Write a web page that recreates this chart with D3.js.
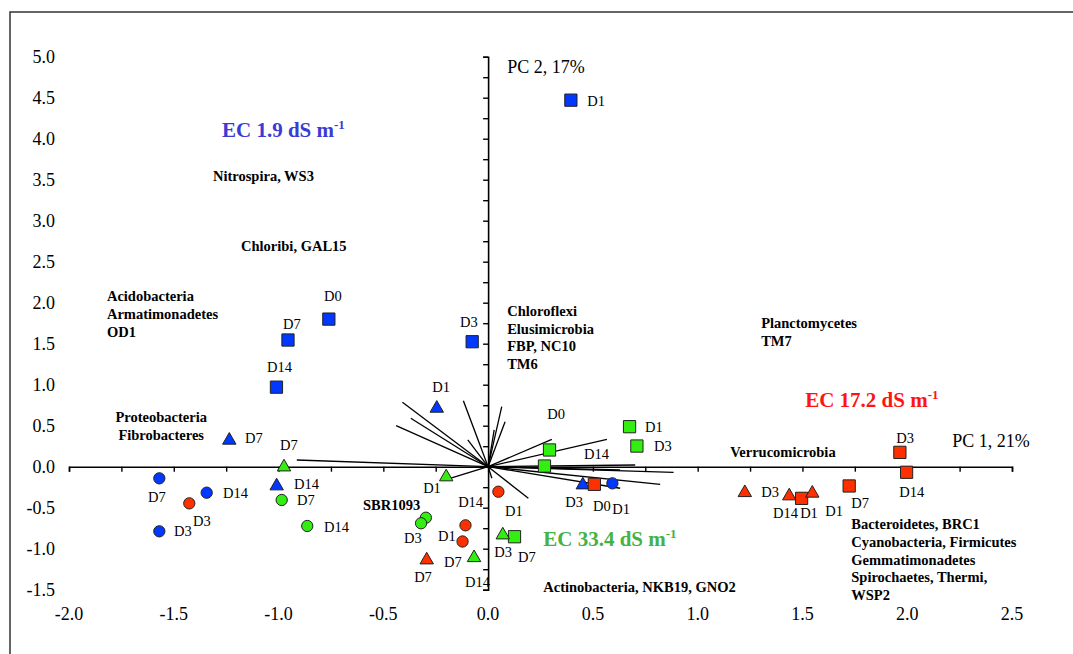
<!DOCTYPE html>
<html>
<head>
<meta charset="utf-8">
<script src="https://cdn.jsdelivr.net/npm/d3@7"></script>
<style>
  body { margin: 0; background: #fff; }
  svg { display: block; }
  text { font-family: "Liberation Serif", "Times New Roman", serif; }
</style>
</head>
<body>
<svg id="chart" width="1073" height="654"></svg>
<script>
// axis ticks
var xTickLabels = [-2.0, -1.5, -1.0, -0.5, 0.0, 0.5, 1.0, 1.5, 2.0, 2.5];
var yTickLabels = [-1.5, -1.0, -0.5, 0.0, 0.5, 1.0, 1.5, 2.0, 2.5, 3.0, 3.5, 4.0, 4.5, 5.0];

// sample scores, one array per EC level and marker
var ec19Square   = [[0.395, 4.47], [-0.76, 1.80], [-0.955, 1.545], [-1.01, 0.97], [-0.076, 1.524]];
var ec19Triangle = [[-0.245, 0.724], [-1.235, 0.334], [-1.009, -0.223], [0.452, -0.211]];
var ec19Circle   = [[-1.569, -0.142], [-1.343, -0.317], [-1.569, -0.788], [0.593, -0.203]];

var ec172Square   = [[0.507, -0.215], [1.496, -0.386], [1.723, -0.235], [1.965, 0.175], [1.997, -0.068]];
var ec172Triangle = [[-0.293, -1.126], [1.225, -0.305], [1.437, -0.345], [1.547, -0.312]];
var ec172Circle   = [[-1.426, -0.447], [0.049, -0.305], [-0.108, -0.715], [-0.122, -0.912]];

var ec334Square   = [[0.675, 0.488], [0.710, 0.252], [0.293, 0.204], [0.269, 0.008], [0.126, -0.854]];
var ec334Triangle = [[-0.974, 0.008], [-0.200, -0.113], [0.070, -0.821], [-0.067, -1.098]];
var ec334Circle   = [[-0.985, -0.406], [-0.863, -0.723], [-0.297, -0.622], [-0.320, -0.690]];

// day labels next to the samples
var dayLabels = [
  ["D0", -0.783, 2.02], ["D7", -0.979, 1.68], ["D14", -1.055, 1.15], ["D1", 0.473, 4.40],
  ["D3", -0.134, 1.70], ["D1", -0.267, 0.91], ["D7", -1.160, 0.29], ["D7", -0.993, 0.20],
  ["D14", -0.926, -0.27], ["D7", -0.912, -0.47], ["D14", -0.783, -0.80], ["D7", -1.623, -0.43],
  ["D14", -1.265, -0.38], ["D3", -1.408, -0.72], ["D3", -1.499, -0.85], ["D1", -0.310, -0.32],
  ["D14", -0.143, -0.49], ["D1", 0.081, -0.60], ["D3", -0.401, -0.93], ["D1", -0.239, -0.91],
  ["D3", 0.029, -1.10], ["D7", 0.143, -1.16], ["D7", -0.210, -1.22], ["D7", -0.353, -1.41],
  ["D14", -0.110, -1.47], ["D0", 0.282, 0.58], ["D14", 0.458, 0.09], ["D1", 0.749, 0.42],
  ["D3", 0.792, 0.19], ["D3", 0.368, -0.49], ["D0", 0.501, -0.54], ["D1", 0.592, -0.58],
  ["D3", 1.303, -0.37], ["D14", 1.360, -0.62], ["D1", 1.489, -0.62], ["D1", 1.609, -0.60],
  ["D7", 1.733, -0.50], ["D3", 1.948, 0.29], ["D14", 1.962, -0.37]
];

// phylum loading vectors (end points)
var loadings = [
  [-0.409, 0.785], [-0.369, 0.590], [-0.439, 0.500], [-0.118, 0.805], [-0.097, 0.326],
  [0.065, 0.732], [0.081, 0.549], [0.029, 0.448], [-0.205, -0.162], [-0.913, 0.082],
  [0.304, 0.334], [0.567, 0.334], [0.702, 0.021], [0.885, -0.068], [0.821, -0.215],
  [0.630, -0.263], [0.192, -0.385], [0.018, -0.141], [0.630, -0.040]
];

// taxa names
var taxaLabels = [
  [["Nitrospira, WS3"], -1.313, 3.48],
  [["Chloribi, GAL15"], -1.179, 2.63],
  [["Acidobacteria", "Armatimonadetes", "OD1"], -1.819, 2.02],
  [["Chloroflexi", "Elusimicrobia", "FBP, NC10", "TM6"], 0.091, 1.84],
  [["Planctomycetes", "TM7"], 1.303, 1.69],
  [["Verrucomicrobia"], 1.155, 0.12],
  [["Bacteroidetes, BRC1", "Cyanobacteria, Firmicutes", "Gemmatimonadetes", "Spirochaetes, Thermi,", "WSP2"], 1.733, -0.76],
  [["Actinobacteria, NKB19, GNO2"], 0.263, -1.53],
  [["SBR1093"], -0.597, -0.53]
];
var taxaCentred = [["Proteobacteria", "Fibrobacteres"], -1.56, 0.545];

var ecLabels = [["EC 1.9 dS m", -1.270, 4.02], ["EC 17.2 dS m", 1.513, 0.73], ["EC 33.4 dS m", 0.263, -0.97]];
var axisTitles = [["PC 2, 17%", 0.091, 4.80], ["PC 1, 21%", 2.215, 0.24]];

var svg = d3.select("#chart");

var x = d3.scaleLinear().domain([-2, 2.5]).range([69, 1012]);
var y = d3.scaleLinear().domain([-1.5, 5]).range([589.7, 56.7]);

var ecColor = d3.scaleOrdinal()
  .domain(["1.9", "17.2", "33.4"])
  .range(["#0038ff", "#ff3000", "#33ee11"]);
var ecTextColor = d3.scaleOrdinal()
  .domain(["1.9", "17.2", "33.4"])
  .range(["#3b3bd4", "#ff1414", "#44b244"]);

// outer frame, cut off at right and bottom like the source
svg.append("rect")
  .attr("x", 10).attr("y", 12)
  .attr("width", 1100).attr("height", 700)
  .style("fill", "none").style("stroke", "#333").style("stroke-width", 1.5);

// axes through the origin, labels kept at the outside
var xAxis = d3.axisBottom(x)
  .tickValues(d3.range(-2, 2.5001, 0.25))
  .tickSize(5).tickFormat("");
svg.append("g")
  .attr("transform", "translate(0," + y(0) + ")")
  .call(xAxis)
  .call(function(g) {
    g.select(".domain").attr("stroke", "#000").attr("stroke-width", 1.6);
    g.selectAll(".tick line").attr("stroke", "#000").attr("stroke-width", 1.4);
  });

var yAxis = d3.axisLeft(y)
  .tickValues(d3.range(-1.5, 5.0001, 0.25))
  .tickSize(5).tickFormat("");
svg.append("g")
  .attr("transform", "translate(" + x(0) + ",0)")
  .call(yAxis)
  .call(function(g) {
    g.select(".domain").attr("stroke", "#000").attr("stroke-width", 1.6);
    g.selectAll(".tick line").attr("stroke", "#000").attr("stroke-width", 1.4);
  });

svg.selectAll(".xlab")
  .data(xTickLabels)
  .enter().append("text")
  .attr("class", "xlab")
  .attr("x", function(d) { return x(d); })
  .attr("y", 620)
  .attr("text-anchor", "middle")
  .style("font-size", "18px")
  .text(function(d) { return d3.format(".1f")(d).replace("−", "-"); });

svg.selectAll(".ylab")
  .data(yTickLabels)
  .enter().append("text")
  .attr("class", "ylab")
  .attr("x", 55)
  .attr("y", function(d) { return y(d) + 6; })
  .attr("text-anchor", "end")
  .style("font-size", "18px")
  .text(function(d) { return d3.format(".1f")(d).replace("−", "-"); });

// loading vectors
svg.selectAll(".vec")
  .data(loadings)
  .enter().append("line")
  .attr("class", "vec")
  .attr("x1", x(0)).attr("y1", y(0))
  .attr("x2", function(d) { return x(d[0]); })
  .attr("y2", function(d) { return y(d[1]); })
  .style("stroke", "#000").style("stroke-width", 1.3);

// samples
var series = [
  {ec: "1.9", shape: "square", pts: ec19Square},
  {ec: "1.9", shape: "triangle", pts: ec19Triangle},
  {ec: "1.9", shape: "circle", pts: ec19Circle},
  {ec: "17.2", shape: "square", pts: ec172Square},
  {ec: "17.2", shape: "triangle", pts: ec172Triangle},
  {ec: "17.2", shape: "circle", pts: ec172Circle},
  {ec: "33.4", shape: "square", pts: ec334Square},
  {ec: "33.4", shape: "triangle", pts: ec334Triangle},
  {ec: "33.4", shape: "circle", pts: ec334Circle}
];
var symbolType = {square: d3.symbolSquare, triangle: d3.symbolTriangle, circle: d3.symbolCircle};
var symbolSize = {square: 150, triangle: 78, circle: 100};

series.forEach(function(s) {
  var sym = d3.symbol().type(symbolType[s.shape]).size(symbolSize[s.shape]);
  svg.append("g").selectAll("path")
    .data(s.pts)
    .enter().append("path")
    .attr("d", sym)
    .attr("transform", function(d) {
      var dy = s.shape == "triangle" ? 1 : 0;
      return "translate(" + x(d[0]) + "," + (y(d[1]) + dy) + ")";
    })
    .style("fill", ecColor(s.ec))
    .style("stroke", "#222")
    .style("stroke-width", 1);
});

// day labels
svg.selectAll(".day")
  .data(dayLabels)
  .enter().append("text")
  .attr("class", "day")
  .attr("x", function(d) { return x(d[1]); })
  .attr("y", function(d) { return y(d[2]); })
  .style("font-size", "14.5px")
  .text(function(d) { return d[0]; });

// taxa groups
taxaLabels.forEach(function(t) {
  var txt = svg.append("text")
    .attr("x", x(t[1])).attr("y", y(t[2]))
    .style("font-size", "14.5px").style("font-weight", "bold");
  t[0].forEach(function(line, i) {
    txt.append("tspan").attr("x", x(t[1])).attr("dy", i == 0 ? 0 : 17.8).text(line);
  });
});
var pt = svg.append("text")
  .attr("x", x(taxaCentred[1])).attr("y", y(taxaCentred[2]))
  .attr("text-anchor", "middle")
  .style("font-size", "14.5px").style("font-weight", "bold");
taxaCentred[0].forEach(function(line, i) {
  pt.append("tspan").attr("x", x(taxaCentred[1])).attr("dy", i == 0 ? 0 : 17.5).text(line);
});

// EC headings with superscript
ecLabels.forEach(function(e) {
  var key = e[0].split(" ")[1];
  var t = svg.append("text")
    .attr("x", x(e[1])).attr("y", y(e[2]))
    .style("font-size", "21px").style("font-weight", "bold")
    .style("fill", ecTextColor(key));
  t.append("tspan").text(e[0]);
  t.append("tspan").attr("dy", -8).style("font-size", "13px").text("-1");
});

svg.selectAll(".pc")
  .data(axisTitles)
  .enter().append("text")
  .attr("class", "pc")
  .attr("x", function(d) { return x(d[1]); })
  .attr("y", function(d) { return y(d[2]); })
  .style("font-size", "18px")
  .text(function(d) { return d[0]; });
</script>
</body>
</html>
